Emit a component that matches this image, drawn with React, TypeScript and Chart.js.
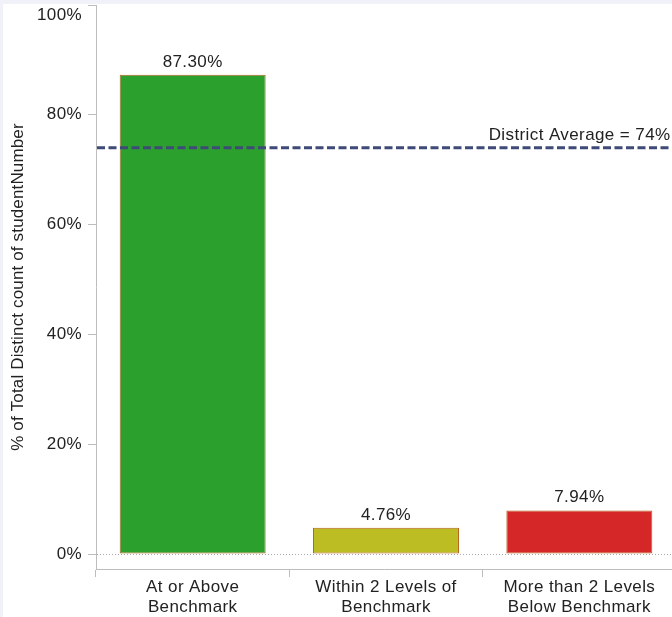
import React, { useEffect, useRef } from 'react';
import { Chart, registerables } from 'chart.js';

Chart.register(...registerables);

// ---- data ----
const categories: string[][] = [
  ['At or Above', 'Benchmark'],
  ['Within 2 Levels of', 'Benchmark'],
  ['More than 2 Levels', 'Below Benchmark'],
];
const values: number[] = [87.3, 4.76, 7.94];
const barColors: string[] = ['#2ca02c', '#bcbd22', '#d62728'];
const yTickValues: number[] = [0, 20, 40, 60, 80, 100];
const districtAverage = 74;
const referenceLabel = 'District Average = 74%';
const yAxisTitle = '% of Total Distinct count of studentNumber';

// ---- styles ----
const FONT = "'Liberation Sans', Arial, sans-serif";
const TEXT = '#222222';
const AXIS = '#bdbdbd';
const BAR_BORDER = '#b8631c';
const REF_COLOR = '#3e4a77';
const X_OVERHANG = 4; // x axis runs slightly past the right edge of the view

const decorPlugin = {
  id: 'decor',
  afterLayout(chart: any) {
    const xs = chart.scales.x;
    xs.right = xs.right + X_OVERHANG;
    xs.width = xs.width + X_OVERHANG;
    xs.configure();
  },
  beforeDraw(chart: any) {
    const { ctx, width, height } = chart;
    ctx.save();
    ctx.fillStyle = '#ffffff';
    ctx.fillRect(0, 0, width, height);
    ctx.fillStyle = '#f1f1f9';
    ctx.fillRect(0, 0, width, 4);
    ctx.fillRect(0, 0, 3, height);
    ctx.restore();
    try {
      (ctx as any).letterSpacing = '0.4px';
    } catch (e) {
      /* ignore */
    }
  },
  beforeDatasetsDraw(chart: any) {
    const { ctx, chartArea } = chart;
    const y = Math.round(chart.scales.y.getPixelForValue(0)) + 0.5;
    ctx.save();
    ctx.strokeStyle = '#a8a8a8';
    ctx.lineWidth = 1;
    ctx.setLineDash([1, 2]);
    ctx.beginPath();
    ctx.moveTo(chartArea.left + 1, y);
    ctx.lineTo(chartArea.right, y);
    ctx.stroke();
    ctx.restore();
  },
  afterDatasetsDraw(chart: any) {
    const { ctx, chartArea, width } = chart;
    const yScale = chart.scales.y;
    ctx.save();
    // value labels
    ctx.font = `17px ${FONT}`;
    ctx.fillStyle = TEXT;
    ctx.textAlign = 'center';
    ctx.textBaseline = 'alphabetic';
    const meta = chart.getDatasetMeta(0);
    meta.data.forEach((bar: any, i: number) => {
      ctx.fillText(values[i].toFixed(2) + '%', bar.x, bar.y - 8);
    });
    // reference line
    const ry = yScale.getPixelForValue(districtAverage);
    ctx.strokeStyle = REF_COLOR;
    ctx.lineWidth = 3;
    ctx.setLineDash([8, 3.5]);
    ctx.beginPath();
    ctx.moveTo(chartArea.left + 1, ry);
    ctx.lineTo(chartArea.right, ry);
    ctx.stroke();
    ctx.setLineDash([]);
    ctx.textAlign = 'right';
    ctx.fillText(referenceLabel, width - 1.5, ry - 8);
    // y axis title
    try {
      (ctx as any).letterSpacing = '0.15px';
    } catch (e) {
      /* ignore */
    }
    ctx.translate(yScale.left + 18, (chartArea.top + chartArea.bottom) / 2);
    ctx.rotate(-Math.PI / 2);
    ctx.textAlign = 'center';
    ctx.textBaseline = 'middle';
    ctx.fillText(yAxisTitle, 0, 0);
    ctx.restore();
  },
};

export default function App() {
  const canvasRef = useRef<HTMLCanvasElement | null>(null);

  useEffect(() => {
    if (!canvasRef.current) return;
    const chart = new Chart(canvasRef.current, {
      type: 'bar',
      data: {
        labels: categories,
        datasets: [
          {
            data: values,
            backgroundColor: barColors,
            borderColor: BAR_BORDER,
            borderWidth: 1,
            borderSkipped: false,
            barPercentage: 0.755,
            categoryPercentage: 1,
          },
        ],
      },
      options: {
        animation: false,
        responsive: false,
        devicePixelRatio: 1,
        layout: { padding: { top: 5, left: 0, right: 0, bottom: 0 } },
        plugins: {
          legend: { display: false },
          tooltip: { enabled: false },
          title: { display: false },
        },
        scales: {
          x: {
            type: 'category',
            offset: true,
            grid: {
              offset: true,
              drawOnChartArea: false,
              drawTicks: true,
              tickLength: 8,
              color: AXIS,
              lineWidth: 1,
            },
            border: { display: true, color: AXIS, width: 1 },
            ticks: {
              autoSkip: false,
              maxRotation: 0,
              minRotation: 0,
              padding: 0,
              color: TEXT,
              font: { family: FONT, size: 17, lineHeight: 20 / 17 },
            },
            afterFit(scale: any) {
              scale.height = 48;
              scale.paddingLeft = 0;
              scale.paddingRight = 0;
            },
          },
          y: {
            type: 'linear',
            min: -2.732,
            max: 100,
            grid: {
              drawOnChartArea: false,
              drawTicks: true,
              tickLength: 8,
              color: AXIS,
              lineWidth: 1,
            },
            border: { display: true, color: AXIS, width: 1 },
            afterBuildTicks(scale: any) {
              scale.ticks = yTickValues.map((v) => ({ value: v }));
            },
            ticks: {
              padding: 6,
              color: TEXT,
              font: { family: FONT, size: 17, lineHeight: 1.2 },
              callback: (v: any) => (Number(v) === 100 ? ['', '100%'] : `${v}%`),
            },
            afterFit(scale: any) {
              scale.width = 96;
              scale.paddingTop = 0;
              scale.paddingBottom = 0;
            },
          },
        },
      },
      plugins: [decorPlugin],
    });
    return () => chart.destroy();
  }, []);

  return (
    <div style={{ position: 'absolute', left: 0, top: 0, width: 672, height: 617 }}>
      <canvas ref={canvasRef} width={672} height={617} style={{ display: 'block' }} />
    </div>
  );
}
